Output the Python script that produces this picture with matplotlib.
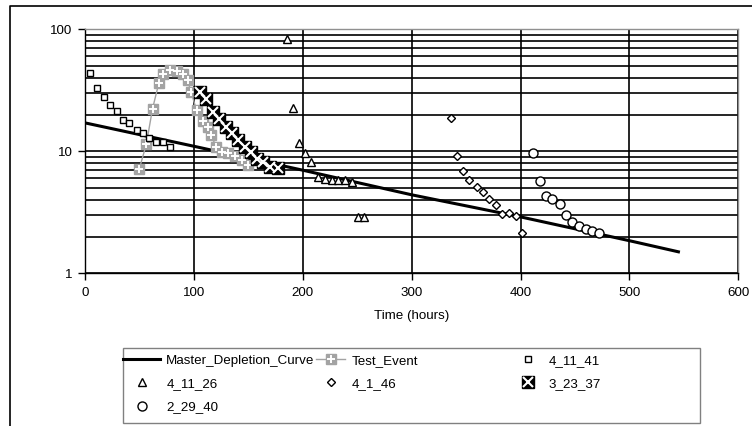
import matplotlib
matplotlib.use("Agg")
import matplotlib.pyplot as plt
from matplotlib.lines import Line2D
from matplotlib.patches import Rectangle
from matplotlib.legend_handler import HandlerTuple
from matplotlib.ticker import LogLocator, NullFormatter, FixedLocator

plt.rcParams["font.family"] = ["Liberation Sans", "DejaVu Sans"]

# data (time in hours, values on log axis)
master_t = [0, 100, 200, 300, 400, 500, 545]
master_q = [17.1, 11.0, 7.0, 4.4, 2.9, 1.85, 1.5]

test_t = [49.9, 56.3, 62.0, 67.8, 71.5, 78.4, 84.5, 89.7, 94.2, 97.2,
          102.5, 108.7, 113.3, 115.8, 120.4, 125.6, 131.6, 137.8, 143.9, 150.0]
test_q = [7.2, 11.4, 22.3, 36.2, 43.3, 46.4, 45.2, 43.2, 38.5, 30.8,
          21.8, 17.8, 15.9, 13.6, 10.9, 9.9, 9.6, 9.1, 8.5, 7.7]

s41_t = [4.6, 10.7, 17.8, 23.0, 29.1, 35.2, 40.7, 47.5, 53.6, 59.1, 65.3, 71.9, 78.1]
s41_q = [44.0, 33.2, 28.0, 23.8, 21.5, 18.1, 17.2, 15.0, 14.0, 12.9, 12.0, 12.0, 10.8]

s26_t = [185.2, 190.7, 196.5, 202.1, 207.5, 214.2, 220.3, 226.4, 232.5, 238.6, 244.9, 250.4, 256.2]
s26_q = [82.8, 22.5, 11.8, 9.7, 8.1, 6.1, 5.9, 5.8, 5.8, 5.8, 5.6, 2.9, 2.9]

s146_t = [335.9, 341.4, 347.5, 353.0, 359.7, 365.8, 371.3, 377.2, 383.3, 389.7, 395.8, 401.6]
s146_q = [18.6, 9.1, 6.9, 5.8, 5.1, 4.6, 4.1, 3.6, 3.06, 3.1, 2.95, 2.13]

s37_t = [105.6, 111.1, 117.3, 123.4, 129.5, 134.7, 140.8, 147.0, 152.1, 157.7, 163.2, 169.9, 177.5]
s37_q = [30.8, 26.7, 21.1, 18.3, 15.9, 14.2, 12.4, 10.9, 9.9, 8.6, 8.1, 7.4, 7.3]

s40_t = [411.7, 417.9, 423.4, 429.2, 436.2, 441.7, 447.6, 453.7, 459.9, 466.0, 472.1]
s40_q = [9.6, 5.7, 4.3, 4.1, 3.7, 3.0, 2.62, 2.43, 2.31, 2.22, 2.13]

x_ticks = [0, 100, 200, 300, 400, 500, 600]

W, H = 752, 426
gray = "#a3a3a3"
fs = 9.6

fig = plt.figure(figsize=(W / 100, H / 100), dpi=100)
ax = fig.add_axes([85 / W, 1 - 273.3 / H, 653.3 / W, 244 / H])

master, = ax.plot(master_t, master_q, color="black", lw=2.2, zorder=3)
te_line, = ax.plot(test_t, test_q, color=gray, lw=1, marker="s", ms=7.5,
                   mfc=gray, mec=gray, zorder=4)
te_plus, = ax.plot(test_t, test_q, ls="none", marker="+", ms=6, mew=1.4,
                   color="white", zorder=4)
h41, = ax.plot(s41_t, s41_q, ls="none", marker="s", ms=5, mfc="white",
               mec="black", mew=1, zorder=5)
h26, = ax.plot(s26_t, s26_q, ls="none", marker="^", ms=6, mfc="white",
               mec="black", mew=1, zorder=5)
h146, = ax.plot(s146_t, s146_q, ls="none", marker="D", ms=4, mfc="white",
                mec="black", mew=1, zorder=5)
h37, = ax.plot(s37_t, s37_q, ls="none", marker="s", ms=8, mfc="black",
               mec="black", zorder=6)
h37x, = ax.plot(s37_t, s37_q, ls="none", marker="x", ms=6.5, mew=1.5,
                color="white", zorder=6)
h40, = ax.plot(s40_t, s40_q, ls="none", marker="o", ms=6.5, mfc="white",
               mec="black", mew=1, zorder=7)

ax.set_yscale("log")
ax.set_ylim(1, 100)
ax.set_xlim(0, 600)
ax.xaxis.set_major_locator(FixedLocator(x_ticks))
ax.yaxis.set_major_locator(FixedLocator([1, 10, 100]))
ax.yaxis.set_major_formatter(plt.FuncFormatter(lambda v, p: "%d" % v))
ax.yaxis.set_minor_locator(LogLocator(base=10, subs=range(2, 10)))
ax.yaxis.set_minor_formatter(NullFormatter())
ax.tick_params(axis="y", which="minor", length=0)
ax.tick_params(axis="both", which="major", direction="out", length=5,
               width=1, labelsize=fs, color="black")
ax.tick_params(axis="x", pad=5)
ax.tick_params(axis="y", pad=4)

ax.set_axisbelow(True)
ax.grid(True, axis="y", which="both", color="black", lw=1.2)
ax.grid(True, axis="x", which="major", color="black", lw=1.2)

for side in ["left", "bottom"]:
    ax.spines[side].set_color("black")
    ax.spines[side].set_linewidth(1)
for side in ["right", "top"]:
    ax.spines[side].set_color("#909090")
    ax.spines[side].set_linewidth(1)

ax.set_xlabel("Time (hours)", fontsize=fs, labelpad=8)

# legend in three columns like the spreadsheet chart
hmap = {tuple: HandlerTuple(ndivide=1)}
legend_cols = [
    (123, 2.8, [master, h26, h40], ["Master_Depletion_Curve", "4_11_26", "2_29_40"]),
    (316, 2.2, [(te_line, te_plus), h146], ["Test_Event", "4_1_46"]),
    (513, 2.2, [h41, (h37, h37x)], ["4_11_41", "3_23_37"]),
]
for x0, hl, hs, labs in legend_cols:
    fig.legend(hs, labs, loc="upper left", bbox_to_anchor=(x0 / W, 1 - 354.5 / H),
               frameon=False, borderpad=0, borderaxespad=0, handlelength=hl,
               handletextpad=0.45, labelspacing=0.82, fontsize=fs,
               handler_map=hmap)

fig.add_artist(Rectangle((122.7 / W, 1 - 423.3 / H), (700 - 122.7) / W, 75 / H,
                         transform=fig.transFigure, fill=False,
                         ec="#808080", lw=1))
fig.add_artist(Line2D([10 / W, 10 / W, 1.0], [0, 1 - 6 / H, 1 - 6 / H],
                      color="black", lw=1.2, transform=fig.transFigure))

fig.savefig("out.png", dpi=100)
